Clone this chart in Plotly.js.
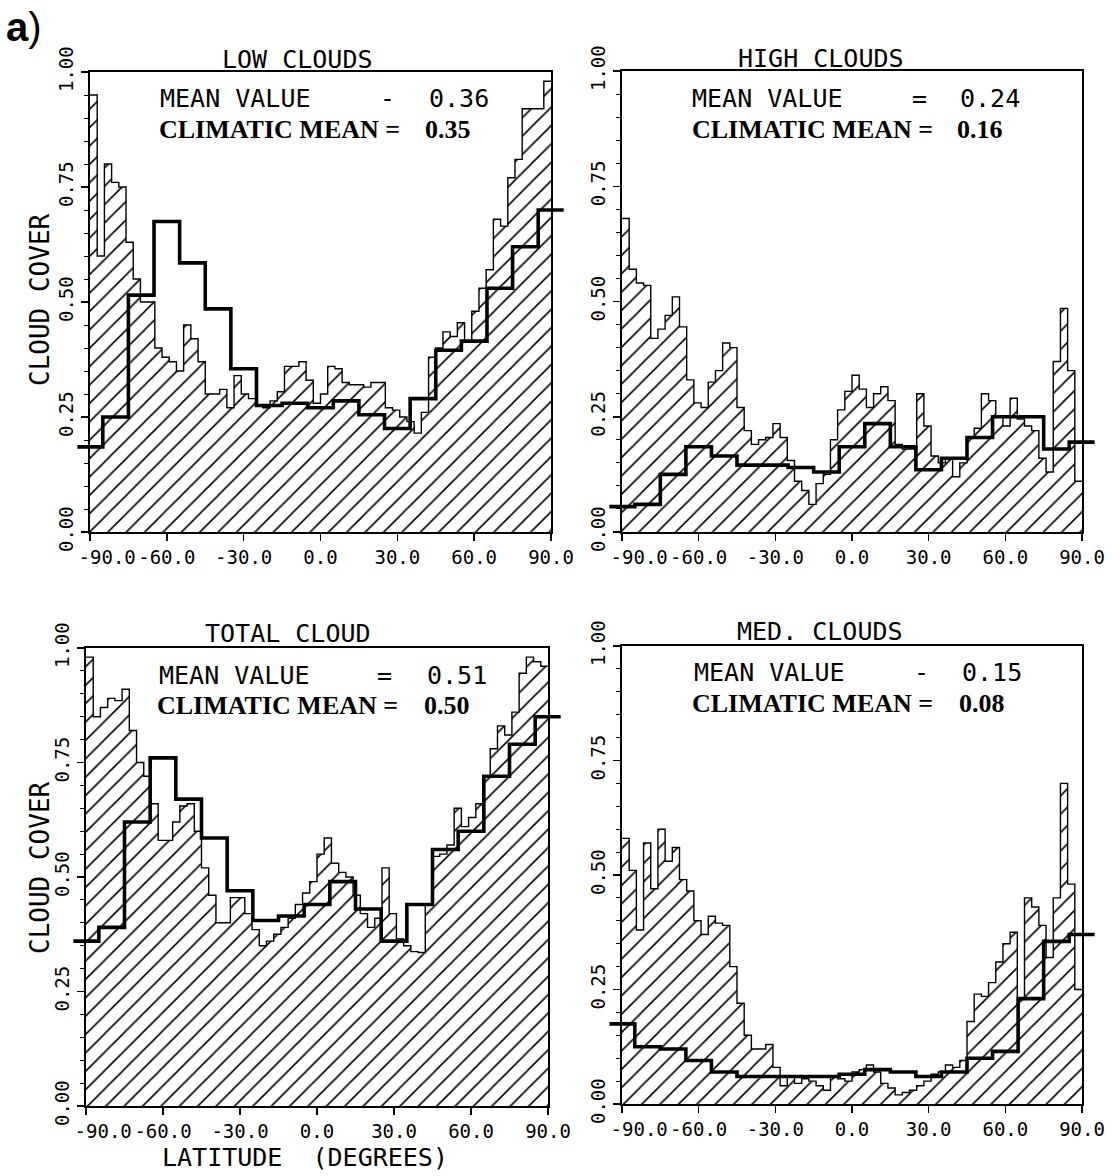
<!DOCTYPE html>
<html>
<head>
<meta charset="utf-8">
<script src="https://cdn.plot.ly/plotly-3.0.1.min.js"></script>
<style>html,body{margin:0;padding:0;background:#fff;}</style>
</head>
<body>
<div id="chart" style="width:1120px;height:1176px;"></div>
<script>
// ---------------- DATA ----------------
// zonal-mean cloud cover, 64 latitude bands from -90 to 90
const lowClouds = [0.95,0.60,0.80,0.76,0.75,0.63,0.55,0.50,0.50,0.40,0.38,0.37,0.35,0.45,0.42,0.37,0.30,0.30,0.31,0.27,0.34,0.30,0.29,0.275,0.27,0.285,0.305,0.36,0.36,0.37,0.33,0.28,
                   0.30,0.36,0.355,0.325,0.32,0.32,0.315,0.325,0.325,0.27,0.265,0.25,0.24,0.215,0.26,0.38,0.40,0.435,0.425,0.455,0.415,0.48,0.53,0.57,0.68,0.665,0.77,0.81,0.92,0.92,0.92,0.98];
const highClouds = [0.68,0.57,0.54,0.535,0.42,0.44,0.47,0.51,0.445,0.33,0.28,0.27,0.325,0.35,0.41,0.40,0.27,0.22,0.19,0.20,0.205,0.235,0.205,0.155,0.11,0.09,0.06,0.105,0.125,0.20,0.265,0.305,
                    0.34,0.31,0.27,0.30,0.315,0.285,0.19,0.18,0.18,0.30,0.23,0.165,0.15,0.16,0.12,0.15,0.205,0.225,0.30,0.285,0.25,0.23,0.29,0.245,0.23,0.22,0.16,0.13,0.37,0.485,0.35,0.11];
const totalCloud = [0.98,0.85,0.87,0.89,0.885,0.91,0.82,0.75,0.72,0.66,0.58,0.58,0.62,0.655,0.66,0.60,0.52,0.46,0.40,0.40,0.455,0.455,0.42,0.385,0.35,0.36,0.375,0.39,0.41,0.44,0.465,0.49,
                    0.55,0.585,0.53,0.51,0.50,0.46,0.42,0.39,0.41,0.52,0.42,0.365,0.35,0.337,0.335,0.44,0.545,0.55,0.57,0.65,0.61,0.63,0.66,0.72,0.78,0.83,0.81,0.86,0.945,0.98,0.97,0.96];
const medClouds = [0.58,0.51,0.38,0.57,0.47,0.60,0.53,0.56,0.49,0.465,0.40,0.37,0.41,0.395,0.39,0.30,0.22,0.15,0.12,0.12,0.13,0.08,0.04,0.06,0.045,0.055,0.05,0.04,0.03,0.06,0.055,0.05,
                   0.07,0.075,0.085,0.07,0.045,0.035,0.02,0.025,0.03,0.04,0.05,0.065,0.07,0.085,0.08,0.095,0.18,0.24,0.235,0.265,0.31,0.35,0.375,0.23,0.45,0.43,0.39,0.32,0.45,0.70,0.48,0.25];

// climatic mean, 10-degree bands centred on these latitudes
const climLat = [-90,-80,-70,-60,-50,-40,-30,-20,-10,0,10,20,30,40,50,60,70,80,90];
const lowClim   = [0.185,0.25,0.515,0.675,0.585,0.485,0.355,0.275,0.28,0.27,0.285,0.255,0.225,0.29,0.395,0.415,0.53,0.62,0.70];
const highClim  = [0.055,0.06,0.125,0.185,0.165,0.145,0.145,0.14,0.13,0.185,0.235,0.185,0.135,0.16,0.205,0.25,0.25,0.18,0.195];
const totalClim = [0.36,0.39,0.62,0.76,0.67,0.585,0.47,0.405,0.415,0.44,0.49,0.43,0.36,0.44,0.56,0.60,0.72,0.79,0.85];
const medClim   = [0.175,0.125,0.12,0.095,0.07,0.06,0.06,0.06,0.06,0.065,0.075,0.07,0.06,0.07,0.10,0.115,0.23,0.355,0.37];

const panelTitles = ["LOW CLOUDS","HIGH CLOUDS","TOTAL CLOUD","MED. CLOUDS"];
const meanValues  = ["0.36","0.24","0.51","0.15"];
const meanSeps    = ["-","=","=","-"];
const climValues  = ["0.35","0.16","0.50","0.08"];

const xTickVals = [-90,-60,-30,0,30,60,90];
const xTickText = ["-90.0","-60.0","-30.0","0.0","30.0","60.0","90.0"];
const yTickVals = [0,0.25,0.5,0.75,1.0];
const yTickText = ["0.00","0.25","0.50","0.75","1.00"];

// ---------------- LAYOUT HELPERS ----------------
const W = 1120, H = 1176;
const px = X => X / W;
const py = Y => 1 - Y / H;
// pixel boxes of plot areas [left,right,top,bottom]
const boxes = [
  [90, 551, 72, 532],
  [622, 1082, 71, 532],
  [86, 548, 648, 1106],
  [622, 1082, 646, 1104]
];
const series = [lowClouds, highClouds, totalCloud, medClouds];
const clims = [lowClim, highClim, totalClim, medClim];
const HALF = 5; // half width of climatic bands (deg)

const mono = "DejaVu Sans Mono, monospace";
const serifB = "Liberation Serif, DejaVu Serif, serif";

const traces = [];
const layout = {
  width: W, height: H,
  margin: {l:0, r:0, t:0, b:0},
  paper_bgcolor: "#ffffff",
  plot_bgcolor: "rgba(0,0,0,0)",
  showlegend: false,
  annotations: []
};

// NBSP padding for the crowded first label
const nb = "\u00a0";
const xTickTextPadded = xTickText.map((t, i) => i === 0 ? nb + nb + nb + t : t);

boxes.forEach((b, i) => {
  const n = i + 1, m = i + 5;
  const [L, R, T, B] = b;
  const vals = series[i];
  const N = vals.length;
  // step edges
  const edges = [];
  for (let k = 0; k <= N; k++) edges.push(-90 + 180 * k / N);
  const hx = edges.slice();
  const hy = vals.concat([vals[N - 1]]);

  traces.push({
    type: "scatter", mode: "lines",
    x: hx, y: hy,
    xaxis: "x" + n, yaxis: "y" + n,
    line: {shape: "hv", color: "#000", width: 1.4},
    fill: "tozeroy",
    fillcolor: "#ffffff",
    fillpattern: {shape: "/", size: 13, solidity: 0.12, fgcolor: "#000", bgcolor: "#ffffff"},
    hoverinfo: "skip"
  });

  const cv = clims[i];
  const cx = climLat.map(c => c - HALF).concat([climLat[climLat.length - 1] + HALF]);
  const cy = cv.concat([cv[cv.length - 1]]);
  traces.push({
    type: "scatter", mode: "lines",
    x: cx, y: cy,
    xaxis: "x" + m, yaxis: "y" + m,
    line: {shape: "hv", color: "#000", width: 3.6},
    hoverinfo: "skip"
  });

  const ext = (R - L) * HALF / 180;
  layout["xaxis" + n] = {
    domain: [px(L), px(R)], range: [-90, 90], anchor: "y" + n,
    tickvals: xTickVals, ticktext: xTickTextPadded,
    ticks: "outside", ticklen: 7, tickwidth: 1.5, tickcolor: "#000",
    showline: true, mirror: true, linewidth: 2, linecolor: "#000",
    showgrid: false, zeroline: false,
    tickfont: {family: mono, size: 19, color: "#000"}
  };
  layout["yaxis" + n] = {
    domain: [py(B), py(T)], range: [0, 1], anchor: "x" + n,
    tickvals: yTickVals, ticktext: yTickText, tickangle: -90,
    ticks: "outside", ticklen: 7, tickwidth: 1.5, tickcolor: "#000",
    minor: {dtick: 0.05, ticks: "outside", ticklen: 4, tickwidth: 1, tickcolor: "#000"},
    showline: true, mirror: true, linewidth: 2, linecolor: "#000",
    showgrid: false, zeroline: false,
    tickfont: {family: mono, size: 19, color: "#000"}
  };
  layout["xaxis" + m] = {
    domain: [px(L - ext), px(R + ext)], range: [-90 - HALF, 90 + HALF],
    anchor: "y" + m, visible: false, fixedrange: true
  };
  layout["yaxis" + m] = {
    domain: [py(B), py(T)], range: [0, 1], anchor: "x" + m, visible: false, fixedrange: true
  };
});

// ---------------- TEXT ----------------
function ann(text, X, Y, opts) {
  layout.annotations.push(Object.assign({
    text: text, x: px(X), y: py(Y), xref: "paper", yref: "paper",
    showarrow: false, xanchor: "left", yanchor: "middle",
    font: {family: mono, size: 25, color: "#000"}
  }, opts || {}));
}
// panel text anchors (pixels)
const titlePos = [[297, 59], [821, 58], [288, 633], [820, 631]];
const meanPos  = [[158, 99, 378, 427], [690, 98, 910, 958], [157, 675, 375, 425], [692, 672, 912, 960]];
const climPos  = [[157, 130, 423], [690, 129, 955], [155, 705, 422], [690, 703, 957]];

for (let i = 0; i < 4; i++) {
  ann(panelTitles[i], titlePos[i][0], titlePos[i][1], {xanchor: "center"});
  ann("MEAN VALUE", meanPos[i][0], meanPos[i][1]);
  ann(meanSeps[i], meanPos[i][2], meanPos[i][1]);
  ann(meanValues[i], meanPos[i][3], meanPos[i][1]);
  ann("<b>CLIMATIC MEAN =</b>", climPos[i][0], climPos[i][1], {font: {family: serifB, size: 26, color: "#000"}});
  ann("<b>" + climValues[i] + "</b>", climPos[i][2], climPos[i][1], {font: {family: serifB, size: 26, color: "#000"}});
}
ann("CLOUD COVER", 40, 300, {xanchor: "center", textangle: -90, font: {family: mono, size: 26, color: "#000"}});
ann("CLOUD COVER", 40, 868, {xanchor: "center", textangle: -90, font: {family: mono, size: 26, color: "#000"}});
ann("LATITUDE" + nb + nb + "(DEGREES)", 305, 1157, {xanchor: "center", font: {family: mono, size: 25, color: "#000"}});
ann("<b>a</b>)", 4, 27, {font: {family: "Liberation Sans, Arial, sans-serif", size: 40, color: "#000"}});

Plotly.newPlot("chart", traces, layout, {staticPlot: true, displayModeBar: false});
</script>
</body>
</html>
